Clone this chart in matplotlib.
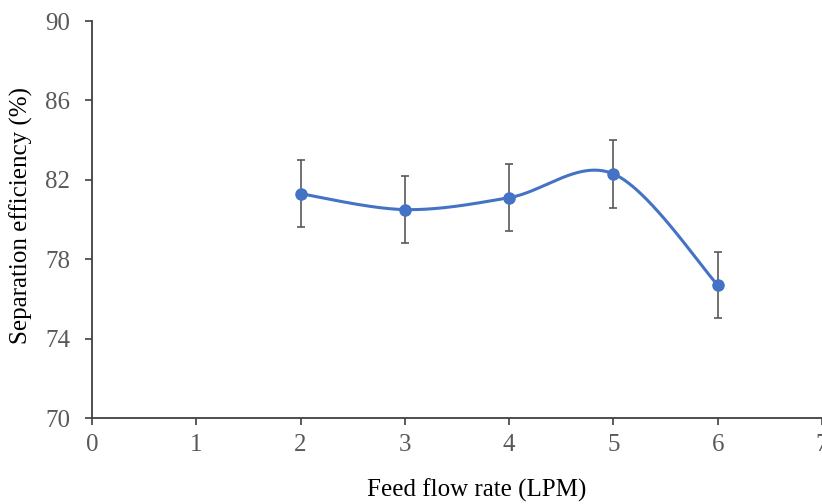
"""Separation efficiency vs feed flow rate, Excel-style smoothed line."""
import matplotlib

matplotlib.use("Agg")
import matplotlib.pyplot as plt  # noqa: E402
import numpy as np  # noqa: E402

# data
flow_rate = [2, 3, 4, 5, 6]
efficiency = [81.3, 80.5, 81.1, 82.3, 76.7]
eff_err = [1.7, 1.7, 1.7, 1.7, 1.65]

x_ticks = [0, 1, 2, 3, 4, 5, 6, 7]
y_ticks = [70, 74, 78, 82, 86, 90]

_BLUE = "#4472c4"
_TICK = "#595959"
_AXIS = "#404040"

plt.rcParams.update({
    "font.family": ["Liberation Serif", "DejaVu Serif"],
    "font.size": 18,
})


def smooth_curve(xs, ys, n=60):
    """Catmull-Rom style bezier through the points (what Excel's 'smoothed line' draws)."""
    p = np.column_stack([xs, ys]).astype(float)
    pts = np.vstack([p[0], p, p[-1]])
    out = []
    t = np.linspace(0, 1, n)[:, None]
    for i in range(1, len(pts) - 2):
        p0, p1, p2, p3 = pts[i - 1], pts[i], pts[i + 1], pts[i + 2]
        c1 = p1 + (p2 - p0) / 6
        c2 = p2 - (p3 - p1) / 6
        seg = ((1 - t) ** 3 * p1 + 3 * (1 - t) ** 2 * t * c1
               + 3 * (1 - t) * t ** 2 * c2 + t ** 3 * p2)
        out.append(seg if i == 1 else seg[1:])
    seg = np.vstack(out)
    return seg[:, 0], seg[:, 1]


fig = plt.figure(figsize=(8.22, 5.04), dpi=100)
ax = fig.add_axes([0.1119, 0.1706, 0.8881, 0.7877])

sx, sy = smooth_curve(flow_rate, efficiency)
ax.plot(sx, sy, color=_BLUE, lw=2.2, zorder=3, solid_capstyle="round")
ax.errorbar(flow_rate, efficiency, yerr=eff_err, fmt="none", ecolor=_TICK,
            elinewidth=1.2, capsize=3, capthick=1.2, zorder=2)
ax.plot(flow_rate, efficiency, "o", color=_BLUE, ms=8, zorder=4)

ax.set_xlim(0, 7)
ax.set_ylim(70, 90)
ax.set_xticks(x_ticks)
ax.set_yticks(y_ticks)
for side in ("top", "right"):
    ax.spines[side].set_visible(False)
for side in ("left", "bottom"):
    ax.spines[side].set_color(_AXIS)
    ax.spines[side].set_linewidth(1.3)
ax.tick_params(colors=_AXIS, labelcolor=_TICK, length=5, width=1.2,
               labelsize=18, direction="out")
ax.tick_params(axis="x", pad=6.5)
ax.tick_params(axis="y", pad=10.5)

ax.set_xlabel("Feed flow rate (LPM)", fontsize=18, color="black")
ax.xaxis.set_label_coords(0.527, -0.152)
ax.set_ylabel("Separation efficiency (%)", fontsize=18, color="black")
ax.yaxis.set_label_coords(-0.081, 0.51)

fig.savefig("out.png", dpi=100)
